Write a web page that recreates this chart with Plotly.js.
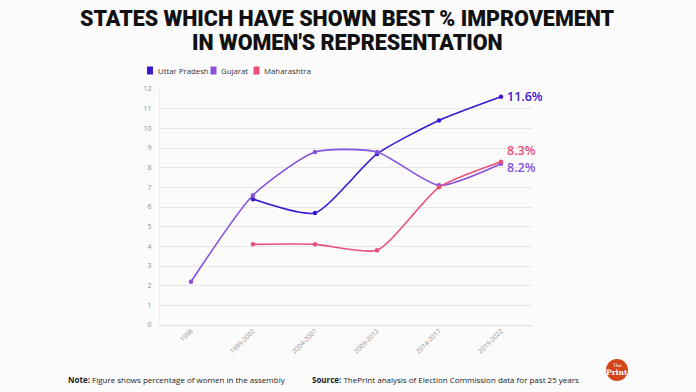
<!DOCTYPE html>
<html>
<head>
<meta charset="utf-8">
<script src="https://cdn.plot.ly/plotly-3.0.1.min.js"></script>
<style>
html,body{margin:0;padding:0;background:#fbfbfb;}
#chart{width:696px;height:392px;}
</style>
</head>
<body>
<div id="chart"></div>
<script>
const categories = ["1998", "1999-2002", "2004-2007", "2009-2012", "2014-2017", "2019-2022"];
const seriesNames = ["Uttar Pradesh", "Gujarat", "Maharashtra"];
const upValues = [null, 6.4, 5.7, 8.7, 10.4, 11.6];
const gujaratValues = [2.2, 6.6, 8.8, 8.8, 7.1, 8.2];
const maharashtraValues = [null, 4.1, 4.1, 3.8, 7.0, 8.3];
const yTicks = [0, 1, 2, 3, 4, 5, 6, 7, 8, 9, 10, 11, 12];
const titleLines = ["STATES WHICH HAVE SHOWN BEST % IMPROVEMENT", "IN WOMEN'S REPRESENTATION"];
const noteText = "<b>Note:</b> Figure shows percentage of women in the assembly";
const sourceText = "<b>Source:</b> ThePrint analysis of Election Commission data for past 25 years";

const colors = ["#3a17cf", "#8752dc", "#e8507a"];
const allValues = [upValues, gujaratValues, maharashtraValues];

// plot area in px
const L = 160, T = 89, W = 372, H = 236;
const px = X => (X - L) / W;
const py = Y => (T + H - Y) / H;

const traces = allValues.map((vals, i) => ({
  type: "scatter",
  mode: "lines+markers",
  x: categories,
  y: vals,
  name: seriesNames[i],
  line: {color: colors[i], width: 1.6, shape: "spline", smoothing: 0.6},
  marker: {color: colors[i], size: 4.5},
  connectgaps: false,
  showlegend: false,
  hoverinfo: "skip"
}));

const annotations = [];
const shapes = [];

// title
titleLines.forEach((t, i) => {
  annotations.push({
    xref: "paper", yref: "paper", x: px(347), y: py(i === 0 ? 19 : 42),
    xanchor: "center", yanchor: "middle", showarrow: false,
    text: t,
    font: {family: "Roboto", size: 21.5, weight: 900, color: "#111"}
  });
});

// legend (manual)
const legendSquares = [147, 210.5, 253.5];
const legendTexts = [155.5, 218.5, 261.5];
seriesNames.forEach((n, i) => {
  shapes.push({
    type: "rect", xref: "paper", yref: "paper",
    x0: px(legendSquares[i]), x1: px(legendSquares[i] + 6),
    y0: py(74.5), y1: py(66.5),
    fillcolor: colors[i], line: {width: 0}
  });
  annotations.push({
    xref: "paper", yref: "paper", x: px(legendTexts[i]), y: py(70.5),
    xanchor: "left", yanchor: "middle", showarrow: false,
    text: n, font: {family: "Open Sans", size: 7.8, color: "#333"}
  });
});

// end labels
const lastIdx = categories.length - 1;
const yShifts = [0, -3.5, 11.5];
allValues.forEach((vals, i) => {
  annotations.push({
    xref: "x", yref: "y", x: categories[lastIdx], y: vals[lastIdx],
    xanchor: "left", yanchor: "middle", xshift: 5, yshift: yShifts[i], showarrow: false,
    borderpad: 0,
    text: vals[lastIdx].toFixed(1) + "%",
    font: {family: "Open Sans", size: 12.5, weight: 600, color: colors[i]}
  });
});

// footer
annotations.push({
  xref: "paper", yref: "paper", x: px(66), y: py(379), xanchor: "left", yanchor: "middle",
  showarrow: false, text: noteText, font: {family: "Open Sans", size: 8, color: "#222"}
});
annotations.push({
  xref: "paper", yref: "paper", x: px(310), y: py(379), xanchor: "left", yanchor: "middle",
  showarrow: false, text: sourceText, font: {family: "Open Sans", size: 8, color: "#222"}
});

// logo
shapes.push({
  type: "circle", xref: "paper", yref: "paper",
  x0: px(606), x1: px(628), y0: py(381), y1: py(359),
  fillcolor: "#d4451c", line: {width: 0}
});
annotations.push({
  xref: "paper", yref: "paper", x: px(617), y: py(365), xanchor: "center", yanchor: "middle",
  showarrow: false, text: "The", font: {family: "DejaVu Serif", size: 4.5, color: "#fff"}
});
annotations.push({
  xref: "paper", yref: "paper", x: px(617), y: py(372.5), xanchor: "center", yanchor: "middle",
  showarrow: false, text: "<b>Print</b>", font: {family: "DejaVu Serif", size: 7.5, color: "#fff"}
});

const layout = {
  width: 696, height: 392,
  paper_bgcolor: "#fbfbfb", plot_bgcolor: "#fbfbfb",
  margin: {l: L, r: 696 - L - W, t: T, b: 392 - T - H},
  showlegend: false,
  xaxis: {
    type: "category", categoryorder: "array", categoryarray: categories,
    range: [-0.5, categories.length - 0.5],
    showgrid: false, zeroline: false, showline: false,
    tickangle: -45, ticks: "",
    tickfont: {family: "Open Sans", size: 6.5, color: "#8f8f8f"},
    fixedrange: true
  },
  yaxis: {
    range: [0, 12], tickvals: yTicks, ticktext: yTicks.map(String),
    showgrid: true, gridcolor: "#e6e6e6", gridwidth: 1,
    zeroline: true, zerolinecolor: "#e0e0e0",
    showline: true, linecolor: "#ececec",
    ticks: "", ticklabelstandoff: 6,
    tickfont: {family: "Open Sans", size: 7, color: "#8f8f8f"},
    fixedrange: true
  },
  annotations: annotations,
  shapes: shapes
};

Plotly.newPlot("chart", traces, layout, {displayModeBar: false, staticPlot: true});
</script>
</body>
</html>
